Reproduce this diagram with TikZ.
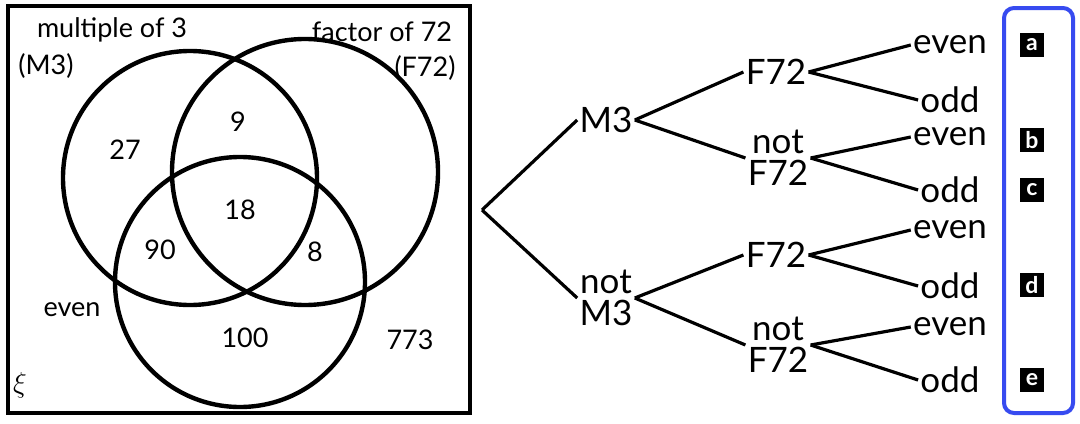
\documentclass[tikz,border=0pt]{standalone}
\usepackage{fontspec}
\setmainfont{Lato}
\usetikzlibrary{positioning}
\tikzset{
  ring/.style={draw,line width=2.2pt},
  num/.style={font=\fontsize{13.5}{14}\selectfont},
  word/.style={font=\fontsize{17.5}{17}\selectfont,align=center,inner sep=1pt},
  branch/.style={line width=1.6pt},
  badge/.style={fill=black,text=white,font=\fontsize{11.5}{11}\bfseries\selectfont,minimum size=12pt,inner sep=0pt}
}
\begin{document}
\begin{tikzpicture}[x=0.5pt,y=-0.5pt]
\useasboundingbox (0,0) rectangle (1080,423);

% venn diagram
\draw[ring] (8,6) rectangle (470,413);
\draw[ring] (190,178) circle (127);
\draw[ring] (305,172) circle (133);
\draw[ring] (240,282) circle (125);
\node[num] (tM) at (112,30) {multiple of 3};
\node[num] (tM3) at (46,66) {(M3)};
\node[num] (tF) at (382,32) {factor of 72};
\node[num] (tF72) at (425,68) {(F72)};
\node[num] (n27) at (125,150) {27};
\node[num] (n9) at (238,122) {9};
\node[num] (n18) at (240,210) {18};
\node[num] (n90) at (160,250) {90};
\node[num] (n8) at (315,252) {8};
\node[num] (even) at (72,310) {even};
\node[num] (n100) at (245,338) {100};
\node[num] (n773) at (410,340) {773};
\node[num] (xi) at (20,385) {$\xi$};

% tree
\coordinate (root) at (482,210);
\node[word] (M) at (606,120) {M3};
\node[word] (nM) at (606,298) {not\\[-1pt]M3};
\node[word] (MF) at (776,72) {F72};
\node[word] (MnF) at (778,158) {not\\[-1pt]F72};
\node[word] (nMF) at (776,255) {F72};
\node[word] (nMnF) at (778,345) {not\\[-1pt]F72};
\node[word] (e1) at (950,45) {even};
\node[word] (o1) at (950,100) {odd};
\node[word] (e2) at (950,137) {even};
\node[word] (o2) at (950,190) {odd};
\node[word] (e3) at (950,230) {even};
\node[word] (o3) at (950,286) {odd};
\node[word] (e4) at (950,327) {even};
\node[word] (o4) at (950,380) {odd};
\draw[branch] (root) -- (M.west);
\draw[branch] (root) -- (nM.west);
\draw[branch] (M.east) -- (MF.west);
\draw[branch] (M.east) -- (MnF.west);
\draw[branch] (nM.east) -- (nMF.west);
\draw[branch] (nM.east) -- (nMnF.west);
\foreach \p/\a/\b in {MF/e1/o1,MnF/e2/o2,nMF/e3/o3,nMnF/e4/o4}{
  \draw[branch] (\p.east) -- (\a.west);
  \draw[branch] (\p.east) -- (\b.west);
}

% answer column
\draw[draw={rgb,255:red,55;green,75;blue,240},line width=2pt,rounded corners=5pt] (1004,8) rectangle (1073,413);
\node[badge] (ba) at (1032,45) {a};
\node[badge] (bb) at (1032,140) {b};
\node[badge] (bc) at (1032,190) {c};
\node[badge] (bd) at (1032,285) {d};
\node[badge] (be) at (1032,380) {e};
\end{tikzpicture}
\end{document}
